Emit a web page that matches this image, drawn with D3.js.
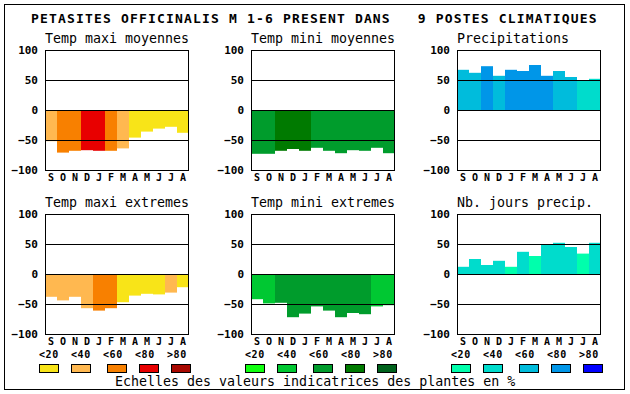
<!DOCTYPE html>
<html>
<head>
<meta charset="utf-8">
<script src="https://cdn.jsdelivr.net/npm/d3@7"></script>
<style>
  body { margin: 0; background: white; }
  text { font-family: "DejaVu Sans Mono", "Liberation Mono", monospace; fill: black; }
</style>
</head>
<body>
<div id="container"></div>
<script>
// Data
const months = ['S', 'O', 'N', 'D', 'J', 'F', 'M', 'A', 'M', 'J', 'J', 'A'];
const tickValues = [100, 50, 0, -50, -100];
const legendLabels = ['<20', '<40', '<60', '<80', '>80'];

const warmColors = ['#f8e418', '#ffb850', '#f88000', '#e80000', '#a80800'];
const greenColors = ['#10ff10', '#00c832', '#009c2c', '#007a00', '#00621c'];
const blueColors = ['#00ffac', '#00dccc', '#00bcdc', '#0096e8', '#0000ff'];

const tmaxMoy = [-52, -71, -68, -67, -68, -68, -64, -46, -36, -31, -28, -38];
const tmaxMoyClass = [1, 2, 2, 3, 3, 2, 1, 0, 0, 0, 0, 0];
const tminMoy = [-73, -73, -68, -65, -68, -63, -68, -72, -67, -68, -63, -72];
const tminMoyClass = [2, 2, 3, 3, 3, 2, 2, 2, 2, 2, 2, 2];
const precip = [67, 62, 73, 57, 67, 65, 75, 57, 65, 55, 50, 52];
const precipClass = [2, 2, 3, 2, 3, 3, 3, 3, 2, 2, 1, 1];
const tmaxExt = [-38, -44, -38, -57, -61, -57, -47, -36, -33, -34, -31, -22];
const tmaxExtClass = [1, 1, 1, 1, 2, 2, 0, 0, 0, 0, 1, 0];
const tminExt = [-42, -49, -48, -72, -66, -54, -61, -72, -65, -67, -54, -52];
const tminExtClass = [1, 1, 2, 2, 2, 2, 2, 2, 2, 2, 1, 1];
const nbJours = [12, 25, 15, 22, 12, 37, 30, 49, 52, 45, 34, 52];
const nbJoursClass = [1, 1, 1, 1, 0, 1, 0, 1, 1, 1, 0, 1];

const panels = [
  { title: 'Temp maxi moyennes', values: tmaxMoy, cls: tmaxMoyClass, colors: warmColors, col: 0, row: 0 },
  { title: 'Temp mini moyennes', values: tminMoy, cls: tminMoyClass, colors: greenColors, col: 1, row: 0 },
  { title: 'Precipitations', values: precip, cls: precipClass, colors: blueColors, col: 2, row: 0 },
  { title: 'Temp maxi extremes', values: tmaxExt, cls: tmaxExtClass, colors: warmColors, col: 0, row: 1 },
  { title: 'Temp mini extremes', values: tminExt, cls: tminExtClass, colors: greenColors, col: 1, row: 1 },
  { title: 'Nb. jours precip.', values: nbJours, cls: nbJoursClass, colors: blueColors, col: 2, row: 1 }
];

const width = 630;
const height = 394;
const plotW = 144;
const plotH = 120;
const colX = [45, 251, 457];
const rowY = [50, 214];

const svg = d3.select('#container').append('svg')
  .attr('width', width)
  .attr('height', height)
  .style('background-color', 'white');

// outer frame
svg.append('rect')
  .attr('x', 4.5).attr('y', 4.5)
  .attr('width', 620).attr('height', 385)
  .attr('fill', 'none').attr('stroke', 'black');

svg.append('text')
  .attr('x', 31).attr('y', 23)
  .attr('xml:space', 'preserve')
  .style('white-space', 'pre')
  .style('font-size', '13px')
  .style('font-weight', 'bold')
  .style('letter-spacing', '1.17px')
  .text('PETASITES OFFICINALIS M 1-6 PRESENT DANS   9 POSTES CLIMATIQUES');

panels.forEach(p => {
  const left = colX[p.col];
  const top = rowY[p.row];
  const g = svg.append('g').attr('transform', `translate(${left}, ${top})`);

  const x = d3.scaleBand().domain(d3.range(months.length)).range([0, plotW]);
  const y = d3.scaleLinear().domain([-100, 100]).range([plotH, 0]);

  g.append('text')
    .attr('x', 0).attr('y', -7)
    .style('font-size', '13.3px')
    .text(p.title);

  g.selectAll('rect.bar')
    .data(p.values)
    .enter().append('rect')
    .attr('class', 'bar')
    .attr('x', (d, i) => x(i))
    .attr('width', x.bandwidth())
    .attr('y', d => y(Math.max(0, d)))
    .attr('height', d => Math.abs(y(d) - y(0)))
    .attr('fill', (d, i) => p.colors[p.cls[i]]);

  g.selectAll('line.grid')
    .data([50, 0, -50])
    .enter().append('line')
    .attr('class', 'grid')
    .attr('x1', 0).attr('x2', plotW)
    .attr('y1', d => Math.round(y(d)) + 0.5)
    .attr('y2', d => Math.round(y(d)) + 0.5)
    .attr('stroke', 'black');

  g.append('rect')
    .attr('x', 0.5).attr('y', 0.5)
    .attr('width', plotW - 1).attr('height', plotH)
    .attr('fill', 'none').attr('stroke', 'black');

  const yAxis = g.append('g')
    .call(d3.axisLeft(y).tickValues(tickValues).tickSize(0).tickPadding(7));
  yAxis.select('.domain').remove();
  yAxis.selectAll('text')
    .attr('fill', 'black')
    .style('font-family', '"DejaVu Sans Mono", monospace')
    .style('font-size', '11px')
    .style('font-weight', 'bold');

  const xAxis = g.append('g')
    .attr('transform', `translate(0, ${plotH})`)
    .call(d3.axisBottom(x).tickFormat(i => months[i]).tickSize(0).tickPadding(3.5));
  xAxis.select('.domain').remove();
  xAxis.selectAll('text')
    .attr('fill', 'black')
    .style('font-family', '"DejaVu Sans Mono", monospace')
    .style('font-size', '10px')
    .style('font-weight', 'bold');

  // legend only under the lower row
  if (p.row === 1) {
    const lg = g.append('g');
    lg.selectAll('text.leg')
      .data(legendLabels)
      .enter().append('text')
      .attr('class', 'leg')
      .attr('x', (d, i) => -6 + i * 32)
      .attr('y', 143.5)
      .style('font-size', '10px')
      .style('font-weight', 'bold')
      .style('letter-spacing', '0.6px')
      .text(d => d);
    lg.selectAll('rect.leg')
      .data(p.colors)
      .enter().append('rect')
      .attr('class', 'leg')
      .attr('x', (d, i) => -6 + i * 32 + (i >= 2 ? 4 : 0) + 0.5)
      .attr('y', 150.5)
      .attr('width', 19)
      .attr('height', 8)
      .attr('fill', d => d)
      .attr('stroke', 'black');
  }
});

svg.append('text')
  .attr('x', 115).attr('y', 386)
  .style('font-size', '13.3px')
  .text('Echelles des valeurs indicatrices des plantes en %');
</script>
</body>
</html>
